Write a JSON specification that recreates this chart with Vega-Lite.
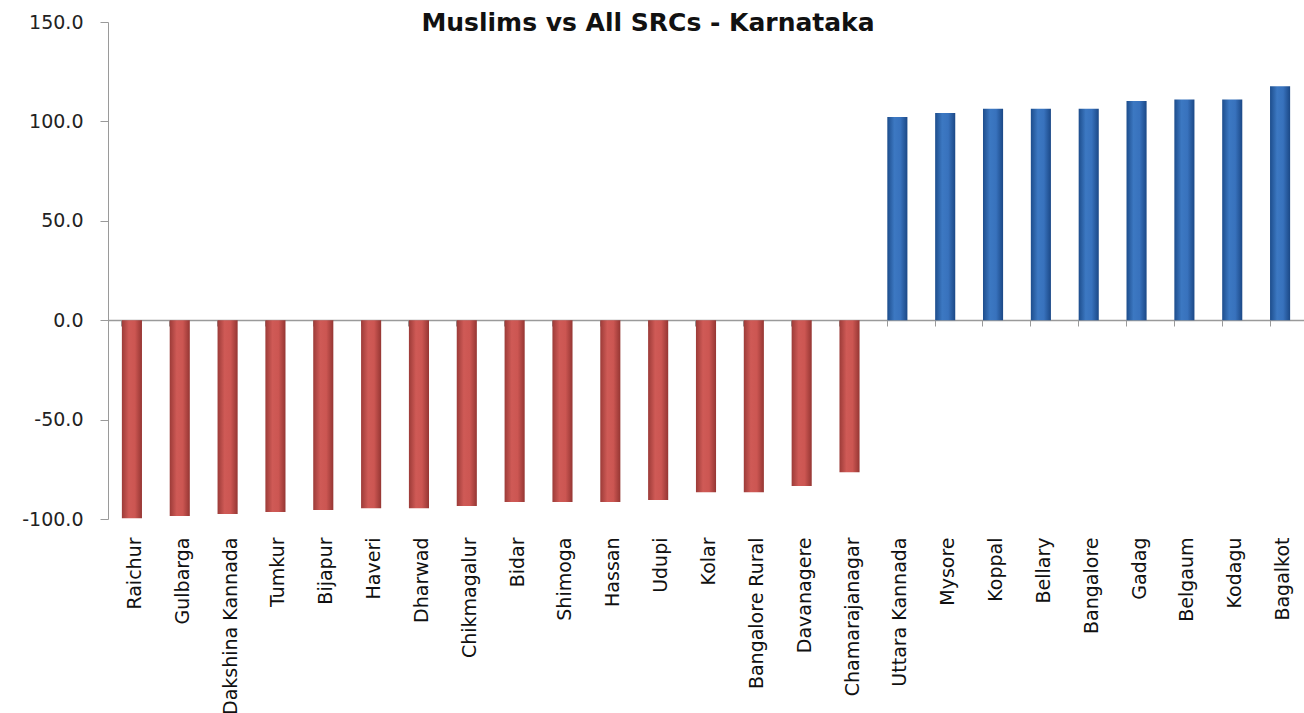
{
  "$schema": "https://vega.github.io/schema/vega-lite/v6.json",
  "width": 1196,
  "height": 497,
  "autosize": "none",
  "padding": {"left": 108, "top": 22, "right": 0, "bottom": 194},
  "background": "white",
  "config": {"view": {"stroke": null}},
  "title": {
    "text": "Muslims vs All SRCs - Karnataka",
    "font": "DejaVu Sans",
    "fontSize": 25,
    "fontWeight": "bold",
    "color": "#111111",
    "anchor": "middle",
    "frame": "group",
    "dx": -58,
    "baseline": "alphabetic",
    "offset": -43
  },
  "data": {
    "values": [
      {"district": "Raichur", "value": -99.6},
      {"district": "Gulbarga", "value": -98.5},
      {"district": "Dakshina Kannada", "value": -97.5},
      {"district": "Tumkur", "value": -96.5},
      {"district": "Bijapur", "value": -95.5},
      {"district": "Haveri", "value": -94.6},
      {"district": "Dharwad", "value": -94.6},
      {"district": "Chikmagalur", "value": -93.5},
      {"district": "Bidar", "value": -91.5},
      {"district": "Shimoga", "value": -91.5},
      {"district": "Hassan", "value": -91.5},
      {"district": "Udupi", "value": -90.5},
      {"district": "Kolar", "value": -86.6},
      {"district": "Bangalore Rural", "value": -86.6},
      {"district": "Davanagere", "value": -83.4},
      {"district": "Chamarajanagar", "value": -76.5},
      {"district": "Uttara Kannada", "value": 102.2},
      {"district": "Mysore", "value": 104.2},
      {"district": "Koppal", "value": 106.4},
      {"district": "Bellary", "value": 106.4},
      {"district": "Bangalore", "value": 106.4},
      {"district": "Gadag", "value": 110.2},
      {"district": "Belgaum", "value": 111.0},
      {"district": "Kodagu", "value": 111.0},
      {"district": "Bagalkot", "value": 117.7}
    ]
  },
  "encoding": {
    "y": {
      "field": "value",
      "type": "quantitative",
      "scale": {"domain": [-100, 150], "nice": false, "zero": false},
      "axis": {
        "values": [-100, -50, 0, 50, 100, 150],
        "labelExpr": "replace(format(datum.value, '.1f'), '\u2212', '-')",
        "title": null,
        "grid": false,
        "domainColor": "#9a9a9a",
        "tickColor": "#9a9a9a",
        "tickSize": 8,
        "labelFont": "DejaVu Sans",
        "labelFontSize": 19,
        "labelColor": "#222222",
        "labelPadding": 17
      }
    }
  },
  "layer": [
    {
      "mark": {"type": "bar"},
      "encoding": {
        "x": {
          "field": "district",
          "type": "nominal",
          "sort": null,
          "scale": {"paddingInner": 0.58, "paddingOuter": 0.29},
          "axis": {
            "orient": "bottom",
            "offset": -199,
            "labels": false,
            "title": null,
            "bandPosition": 0,
            "domainColor": "#9a9a9a",
            "tickColor": "#9a9a9a",
            "tickSize": 6,
            "domainWidth": 1.5
          }
        },
        "color": {
          "condition": {
            "test": "datum.value < 0",
            "value": {
              "gradient": "linear", "x1": 0, "x2": 1, "y1": 0, "y2": 0,
              "stops": [
                {"offset": 0, "color": "#9c3b38"},
                {"offset": 0.35, "color": "#cf5a56"},
                {"offset": 0.65, "color": "#cc5652"},
                {"offset": 1, "color": "#953633"}
              ]
            }
          },
          "value": {
            "gradient": "linear", "x1": 0, "x2": 1, "y1": 0, "y2": 0,
            "stops": [
              {"offset": 0, "color": "#1d4d8c"},
              {"offset": 0.35, "color": "#3c78c2"},
              {"offset": 0.65, "color": "#3872bd"},
              {"offset": 1, "color": "#1b4886"}
            ]
          }
        }
      }
    },
    {
      "mark": {"type": "tick", "opacity": 0},
      "encoding": {
        "x": {
          "field": "district",
          "type": "nominal",
          "sort": null,
          "axis": {
            "orient": "bottom",
            "title": null,
            "domain": false,
            "ticks": false,
            "labelAngle": -90,
            "labelFont": "DejaVu Sans",
            "labelFontSize": 19,
            "labelColor": "#111111",
            "labelPadding": 18,
            "labelOffset": 3,
            "labelOverlap": false
          }
        }
      }
    }
  ],
  "resolve": {"axis": {"x": "independent"}}
}
